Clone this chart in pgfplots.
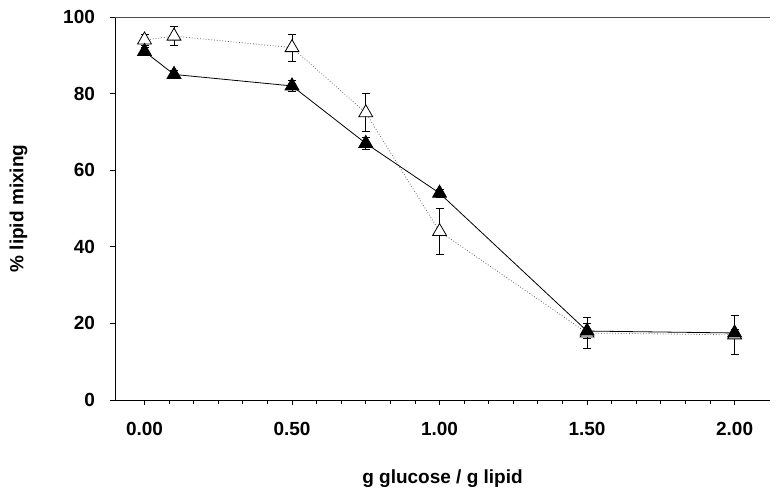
\documentclass[border=0pt]{standalone}
\usepackage{pgfplots}
\pgfplotsset{compat=1.18}
\usepackage{fontspec}
\setmainfont{Liberation Sans}
\setsansfont{Liberation Sans}

\begin{document}
\begin{tikzpicture}
% page frame, keeps the reference's margins
\path (-57.5pt,-35pt) rectangle (330.5pt,191.5pt+8.5pt);
\begin{axis}[
  scale only axis,
  width=327.5pt, height=191.5pt,
  xmin=-0.10, xmax=2.12,
  ymin=0, ymax=100,
  axis x line*=bottom, axis y line*=left,
  axis line style={black, thin},
  xtick={0,0.5,1,1.5,2},
  minor x tick num=5,
  ytick={0,20,40,60,80,100},
  tick align=outside,
  major tick length=2.5pt, minor tick length=1.8pt,
  tick style={black, thin},
  xticklabel={\pgfmathprintnumber[fixed,fixed zerofill,precision=2]{\tick}},
  /pgf/number format/assume math mode=true,
  ticklabel style={font=\fontsize{9.5}{11}\selectfont\bfseries},
  xticklabel style={yshift=-5pt},
  yticklabel style={xshift=-4pt},
  xlabel={g glucose / g lipid},
  ylabel={\% lipid mixing},
  label style={font=\fontsize{9.5}{11}\selectfont\bfseries},
  xlabel style={yshift=-10pt},
  ylabel style={yshift=11pt},
  clip=false,
]
\draw[black!70, thin] (rel axis cs:0,1) -- (rel axis cs:1,1);

% open triangles, dotted
\addplot[black!60, densely dotted, thin,
  mark=triangle*, mark size=4pt,
  mark options={solid, fill=white, draw=black},
  error bars/.cd, y dir=both, y explicit,
  error bar style={black, solid, thin},
  error mark options={black, rotate=90, mark size=2pt, solid}]
coordinates {
  (0.00,94) +- (0,1.5)
  (0.10,95) +- (0,2.5)
  (0.50,92) +- (0,3.5)
  (0.75,75) +- (0,5)
  (1.00,44) +- (0,6)
  (1.50,17.5) +- (0,4)
  (2.00,17) +- (0,5)
};

% filled triangles, solid
\addplot[black, solid, thin,
  mark=triangle*, mark size=4pt,
  mark options={solid, fill=black},
  error bars/.cd, y dir=both, y explicit,
  error bar style={black, thin},
  error mark options={black, rotate=90, mark size=2pt}]
coordinates {
  (0.00,91) +- (0,1)
  (0.10,85) +- (0,1)
  (0.50,82) +- (0,1.5)
  (0.75,67) +- (0,1.5)
  (1.00,54) +- (0,1)
  (1.50,18) +- (0,2)
  (2.00,17.5) +- (0,1)
};
\end{axis}
\end{tikzpicture}
\end{document}
